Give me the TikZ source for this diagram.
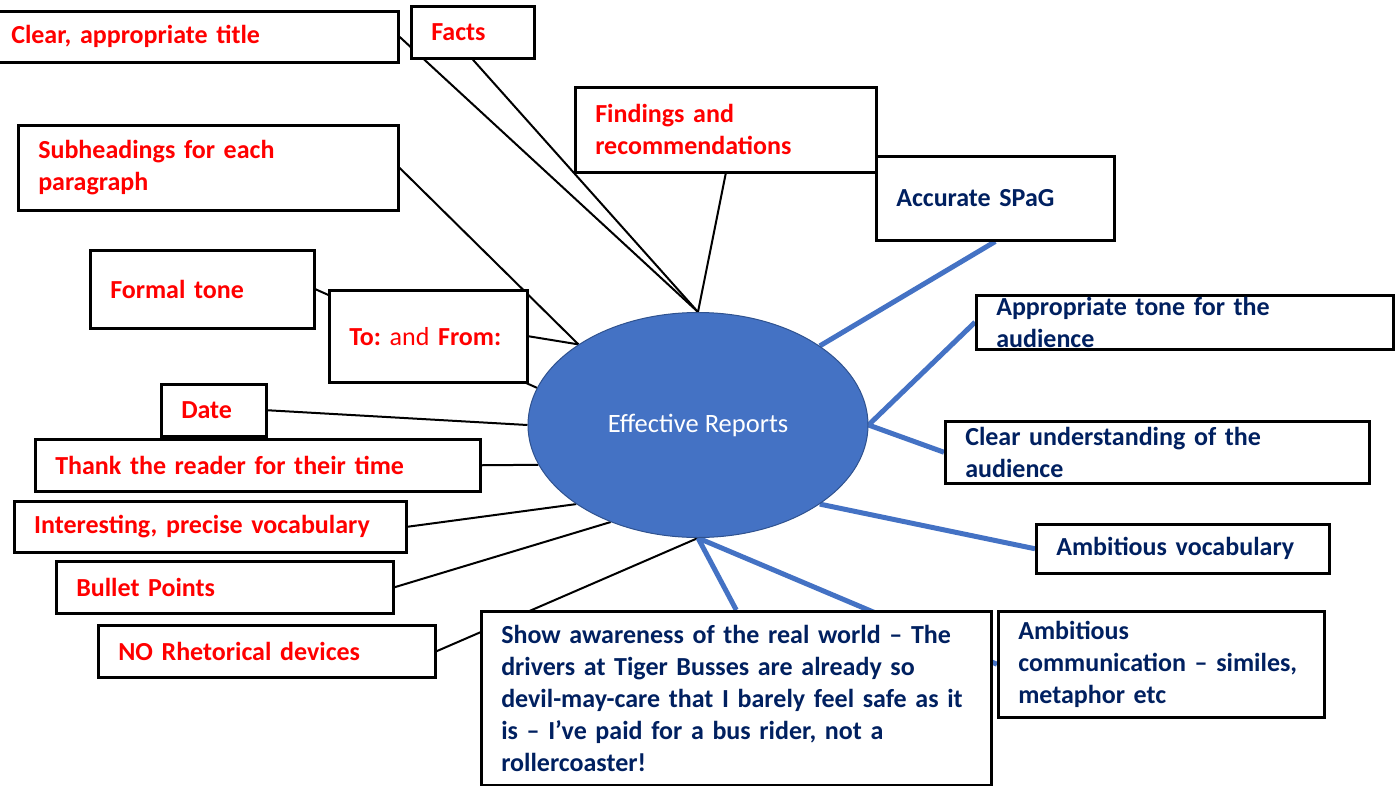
\documentclass[tikz,border=0pt]{standalone}
\usepackage{fontspec}
\setmainfont{Carlito}
\usetikzlibrary{shapes.geometric}
\definecolor{repred}{HTML}{FF0000}
\definecolor{repnavy}{HTML}{002060}
\definecolor{repblue}{HTML}{4472C4}
\definecolor{repedge}{HTML}{2F528F}
\pgfdeclarelayer{bg}
\pgfsetlayers{bg,main}
\frenchspacing

\begin{document}
\begin{tikzpicture}[
  x=1pt,y=-1pt,
  font=\fontsize{26}{32}\selectfont\bfseries\frenchspacing,
  box/.style={draw, line width=2.5pt, fill=white, anchor=north west,
    align=left, inner xsep=20pt, inner ysep=0pt},
  redbox/.style={box, text=repred},
  navybox/.style={box, text=repnavy},
  link/.style={line width=2pt, black},
  blueline/.style={line width=5pt, repblue}
]
\useasboundingbox (0,0) rectangle (1397,785);

% centre
\node[ellipse, fill=repblue, draw=repedge, line width=1pt, minimum width=340pt,
  minimum height=225pt, inner sep=0pt, text=white,
  font=\fontsize{26.5}{32}\selectfont\mdseries] (eff) at (698,425) {Effective Reports};

% red boxes, left and top
\node[redbox, text width=367pt, minimum height=51pt] (title) at (-10,10) {Clear, appropriate title};
\node[redbox, text width=83pt, minimum height=52pt] (facts) at (410,5) {Facts};
\node[redbox, text width=261pt, minimum height=85pt] (findings) at (574,86) {Findings and\\recommendations};
\node[redbox, text width=340pt, minimum height=85pt] (subhead) at (17,124) {Subheadings for each\\paragraph};
\node[redbox, text width=184pt, minimum height=78pt] (formal) at (89,249) {Formal tone};
\node[redbox, text width=158pt, minimum height=92pt] (tofrom) at (328,289) {To: {\mdseries and} From:};
\node[redbox, text width=65pt, minimum height=52pt] (date) at (160,383) {Date};
\node[redbox, text width=405pt, minimum height=52pt] (thank) at (34,438) {Thank the reader for their time};
\node[redbox, text width=352pt, minimum height=51pt] (interest) at (13,500) {Interesting, precise vocabulary};
\node[redbox, text width=297pt, minimum height=52pt] (bullet) at (55,560) {Bullet Points};
\node[redbox, text width=297pt, minimum height=52pt] (norhet) at (97,624) {NO Rhetorical devices};

% navy boxes, right and bottom
\node[navybox, text width=198pt, minimum height=84pt] (spag) at (875,155) {Accurate SPaG};
\node[navybox, text width=377pt, minimum height=54pt] (approp) at (975,294) {Appropriate tone for the\\audience};
\node[navybox, text width=384pt, minimum height=62pt] (clearund) at (944,420) {Clear understanding of the\\audience};
\node[navybox, text width=253pt, minimum height=49pt] (ambvocab) at (1035,523) {Ambitious vocabulary};
\node[navybox, text width=286pt, minimum height=106pt] (ambcomm) at (997,610) {Ambitious\\communication – similes,\\metaphor etc};
\node[navybox, text width=470pt, minimum height=174pt] (show) at (480,610) {Show awareness of the real world – The\\drivers at Tiger Busses are already so\\devil-may-care that I barely feel safe as it\\is – I’ve paid for a bus rider, not a\\rollercoaster!};

\begin{pgfonlayer}{bg}
% black spokes
\draw[link] (title.east) -- (eff.north);
\draw[link] (facts.south) -- (eff.north);
\draw[link] (findings.south) -- (eff.north);
\draw[link] (subhead.east) -- (eff.146);
\draw[link] (formal.east) -- (eff.167);
\draw[link] (tofrom.east) -- (eff.146);
\draw[link] (date.east) -- (eff.west);
\draw[link] (thank.east) -- (eff.194);
\draw[link] (interest.east) -- (eff.213);
\draw[link] (bullet.east) -- (eff.228);
\draw[link] (norhet.east) -- (eff.south);
% blue spokes
\draw[blueline] (spag.south) -- (eff.33);
\draw[blueline] (approp.west) -- (eff.east);
\draw[blueline] (clearund.west) -- (eff.east);
\draw[blueline] (ambvocab.west) -- (eff.-33);
\draw[blueline] (show.north) -- (eff.south);
\draw[blueline] (ambcomm.west) -- (eff.south);
\end{pgfonlayer}
\end{tikzpicture}
\end{document}
